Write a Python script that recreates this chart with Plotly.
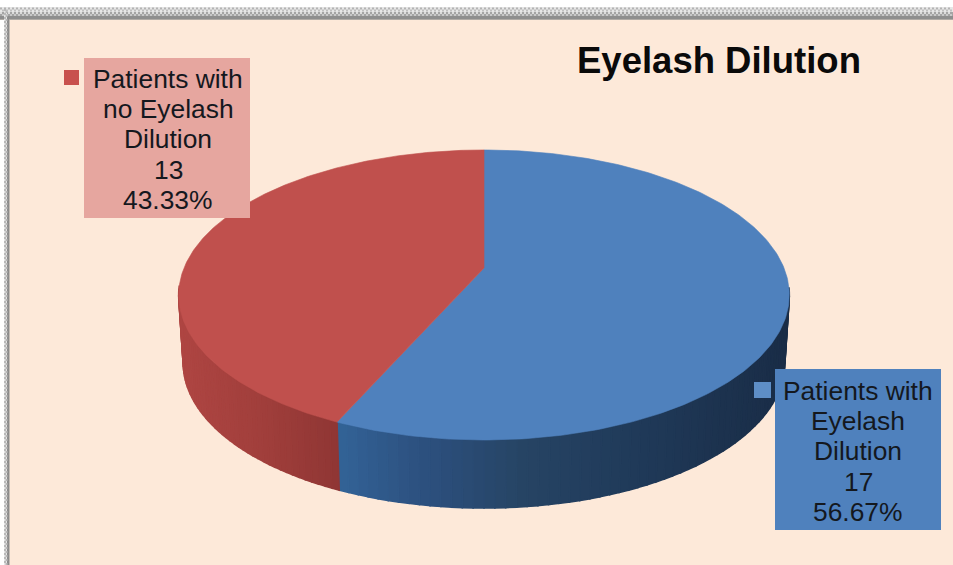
import numpy as np
import plotly.graph_objects as go

# Survey counts
categories = ["Patients with<br>Eyelash<br>Dilution", "Patients with<br>no Eyelash<br>Dilution"]
counts = [17, 13]
top_colors = ["#4F81BD", "#C0504D"]
# Side wall shading along the horizontal position
wall_stops = [
    [(338, "#336397"), (420, "#2D5180"), (520, "#274565"), (640, "#203A59"), (790, "#1A2D47")],
    [(178, "#AF4643"), (260, "#A13F3C"), (340, "#8F3634")],
]
label_boxes = [(775, 369, 941, 530, "#4F81BD"), (84, 58, 250, 218, "#E6A69F")]
key_boxes = [(754, 382, 771, 398, "#5E8EC6"), (64, 70, 79, 85, "#C8514E")]
label_anchor = [(858, 376), (168, 64)]
PAGE = "#FDE9D9"

W, H = 953, 565
CX, CY, SX, SY, PERSP = 484, 268, 300, 140, 0.186
DEPTH, BOTTOM_SCALE = 68, 0.985


def project(theta, drop=0.0, scale=1.0):
    """Tilted disc in perspective; theta runs clockwise from twelve o'clock."""
    u, v = np.sin(theta), -np.cos(theta)
    w = 1 - PERSP * v
    return CX + scale * SX * u / w, CY + SY * v / w + drop


def hex_rgb(c):
    return np.array([int(c[i:i + 2], 16) for i in (1, 3, 5)], float)


def shade(stops, x):
    xs = [s[0] for s in stops]
    rgb = np.array([hex_rgb(s[1]) for s in stops])
    return "rgb(%d,%d,%d)" % tuple(np.interp(x, xs, rgb[:, i]) for i in range(3))


total = sum(counts)
edges = np.concatenate([[0], np.cumsum(counts) / total * 2 * np.pi])

fig = go.Figure()


def poly(xs, ys, color, width=0.6):
    fig.add_trace(go.Scatter(x=xs, y=ys, mode="lines", fill="toself", fillcolor=color,
                             line=dict(color=color, width=width), hoverinfo="skip", showlegend=False))


# Side wall, built from narrow strips so the shading can vary along it
for i in range(len(counts)):
    th = np.linspace(edges[i], edges[i + 1], 120)
    th = th[np.cos(th) < -0.12]
    for a, b in zip(th[:-1], th[1:]):
        x1, y1 = project(a)
        x2, y2 = project(b)
        x3, y3 = project(b, DEPTH, BOTTOM_SCALE)
        x4, y4 = project(a, DEPTH, BOTTOM_SCALE)
        poly([x1, x2, x3, x4, x1], [y1, y2, y3, y4, y1], shade(wall_stops[i], (x1 + x2) / 2), width=1.6)

# Top face of each slice
for i in range(len(counts)):
    th = np.linspace(edges[i], edges[i + 1], 240)
    x, y = project(th)
    poly(np.r_[CX, x, CX], np.r_[CY, y, CY], top_colors[i])

shapes = []
for x0, y0, x1, y1, c in label_boxes + key_boxes:
    shapes.append(dict(type="rect", x0=x0, y0=y0, x1=x1, y1=y1, fillcolor=c, line_width=0, layer="above"))

# Frame of the captured window along the top and left
frame = []
for x0, y0, x1, y1, c in [
    (0, 7, W, 12, "#E6E6E6"), (0, 12, W, 16, "#A4A4A4"), (0, 16, W, 19, "#8E8E8E"), (0, 19, W, 20, "#B0ABA6"),
    (4, 7, 7, H, "#E4E4E4"), (7, 16, 9, H, "#8C8C8C"), (9, 20, 10, H, "#C4BDB6"),
]:
    frame.append(dict(type="rect", x0=x0, y0=y0, x1=x1, y1=y1, fillcolor=c, line_width=0, layer="below"))

annotations = [dict(x=718.5, y=60, text="<b>Eyelash Dilution</b>", showarrow=False,
                    font=dict(family="Liberation Sans", size=36.5, color="#0A0A0A"),
                    xanchor="center", yanchor="middle")]
for name, n, (ax, ay) in zip(categories, counts, label_anchor):
    lines = name.split("<br>") + [str(n), f"{n / total * 100:.2f}%"]
    for k, line in enumerate(lines):
        annotations.append(dict(x=ax, y=ay + 15 + k * 30.2, text=line, showarrow=False,
                                font=dict(family="Liberation Sans", size=26.4, color="#14181E"),
                                xanchor="center", yanchor="middle"))

fig.update_layout(
    width=W, height=H, margin=dict(l=0, r=0, t=0, b=0),
    paper_bgcolor="#FFFFFF", plot_bgcolor=PAGE, showlegend=False,
    xaxis=dict(range=[0, W], visible=False, fixedrange=True),
    yaxis=dict(range=[H, 0], visible=False, fixedrange=True),
    shapes=[dict(type="rect", x0=0, y0=0, x1=W, y1=H, fillcolor=PAGE, line_width=0, layer="below"),
            dict(type="rect", x0=0, y0=0, x1=W, y1=7, fillcolor="#FFFFFF", line_width=0, layer="below"),
            dict(type="rect", x0=0, y0=0, x1=4, y1=H, fillcolor="#FFFFFF", line_width=0, layer="below")]
           + frame + shapes,
    annotations=annotations,
)

# Checkered texture over the frame bands
band_x, band_y, band_c = [], [], []
for row, (y, col) in enumerate([(8.5, "#B4B4B4"), (10.5, "#C0C0C0"), (13, "#DCDCDC"), (15, "#C8C8C8")]):
    xs = np.arange(1 + (row % 2) * 2, W, 4)
    band_x += list(xs)
    band_y += [y] * len(xs)
    band_c += [col] * len(xs)
for col_i, x in enumerate([5.0, 6.5]):
    ys = np.arange(10 + col_i * 2, H, 4)
    band_x += [x] * len(ys)
    band_y += list(ys)
    band_c += ["#B8B8B8"] * len(ys)
fig.add_trace(go.Scatter(x=band_x, y=band_y, mode="markers", hoverinfo="skip", showlegend=False,
                         marker=dict(symbol="square", size=2, color=band_c, line_width=0)))

fig.write_html("out.html", config=dict(displayModeBar=False))
